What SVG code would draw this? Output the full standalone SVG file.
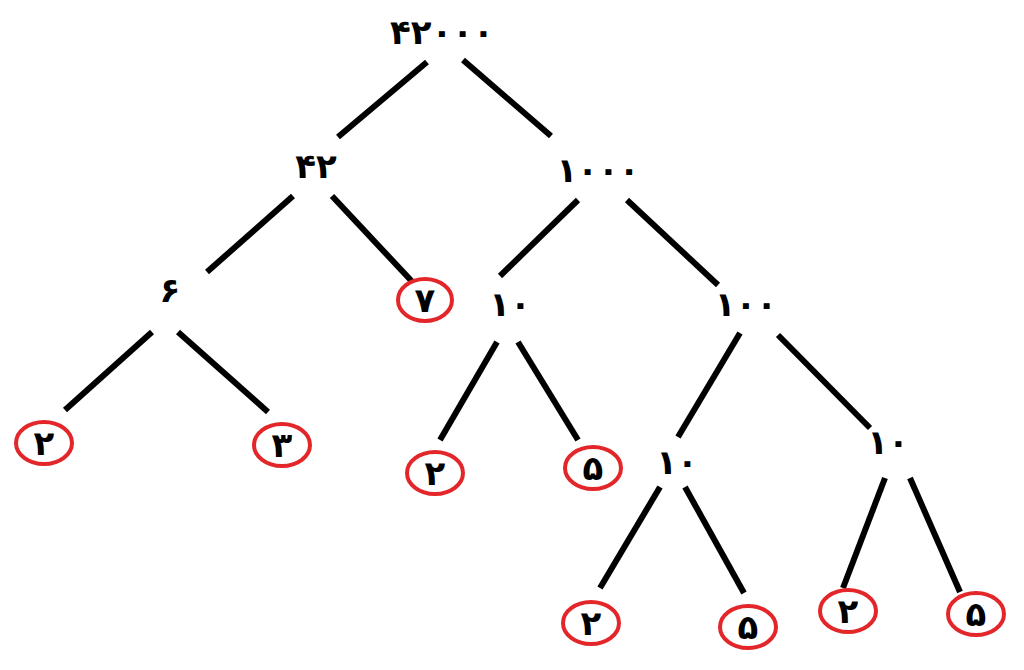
<svg xmlns="http://www.w3.org/2000/svg" width="1024" height="670" viewBox="0 0 1024 670">
<style>
.e{stroke:#000;stroke-width:6;stroke-linecap:butt;fill:none}
.c{fill:#fff;stroke:#e3262a;stroke-width:4}
.t{font-family:"DejaVu Sans","Noto Sans",sans-serif;font-weight:bold;font-size:34px;fill:#000;text-anchor:middle}
</style>
<rect width="1024" height="670" fill="#fff"/>
<g id="connectors">
<line class="e" x1="427" y1="62" x2="338" y2="137"/>
<line class="e" x1="463" y1="60" x2="551" y2="136"/>
<line class="e" x1="293" y1="196" x2="207" y2="272"/>
<line class="e" x1="332" y1="196" x2="420" y2="290"/>
<line class="e" x1="578" y1="200" x2="500" y2="276"/>
<line class="e" x1="627" y1="200" x2="718" y2="285"/>
<line class="e" x1="152" y1="332" x2="65" y2="410"/>
<line class="e" x1="178" y1="332" x2="268" y2="412"/>
<line class="e" x1="497" y1="342" x2="440" y2="440"/>
<line class="e" x1="518" y1="342" x2="578" y2="440"/>
<line class="e" x1="740" y1="333" x2="678" y2="437"/>
<line class="e" x1="778" y1="335" x2="870" y2="428"/>
<line class="e" x1="660" y1="487" x2="600" y2="588"/>
<line class="e" x1="685" y1="487" x2="744" y2="593"/>
<line class="e" x1="885" y1="478" x2="843" y2="588"/>
<line class="e" x1="910" y1="478" x2="960" y2="592"/>
</g>
<g id="n42000"><text class="t" x="442" y="44">۴۲۰۰۰</text></g>
<g id="n42"><text class="t" x="316" y="178">۴۲</text></g>
<g id="n1000"><text class="t" x="598" y="182">۱۰۰۰</text></g>
<g id="n6"><text class="t" x="170" y="302">۶</text></g>
<g id="n7"><ellipse class="c" cx="425" cy="300" rx="27" ry="21"/><text class="t" x="425" y="312">۷</text></g>
<g id="n10a"><text class="t" x="510" y="316">۱۰</text></g>
<g id="n100"><text class="t" x="746" y="316">۱۰۰</text></g>
<g id="n2a"><ellipse class="c" cx="44" cy="443" rx="28" ry="21"/><text class="t" x="44" y="455">۲</text></g>
<g id="n3"><ellipse class="c" cx="282" cy="445" rx="28" ry="21"/><text class="t" x="282" y="457">۳</text></g>
<g id="n2b"><ellipse class="c" cx="435" cy="473" rx="28" ry="21"/><text class="t" x="435" y="485">۲</text></g>
<g id="n5a"><ellipse class="c" cx="593" cy="468" rx="28" ry="21"/><text class="t" x="593" y="480">۵</text></g>
<g id="n10b"><text class="t" x="677" y="474">۱۰</text></g>
<g id="n10c"><text class="t" x="888" y="454">۱۰</text></g>
<g id="n2c"><ellipse class="c" cx="591" cy="623" rx="28" ry="21"/><text class="t" x="591" y="635">۲</text></g>
<g id="n5b"><ellipse class="c" cx="748" cy="627" rx="28" ry="21"/><text class="t" x="748" y="639">۵</text></g>
<g id="n2d"><ellipse class="c" cx="848" cy="611" rx="28" ry="21"/><text class="t" x="848" y="623">۲</text></g>
<g id="n5c"><ellipse class="c" cx="976" cy="614" rx="28" ry="21"/><text class="t" x="976" y="626">۵</text></g>
</svg>
